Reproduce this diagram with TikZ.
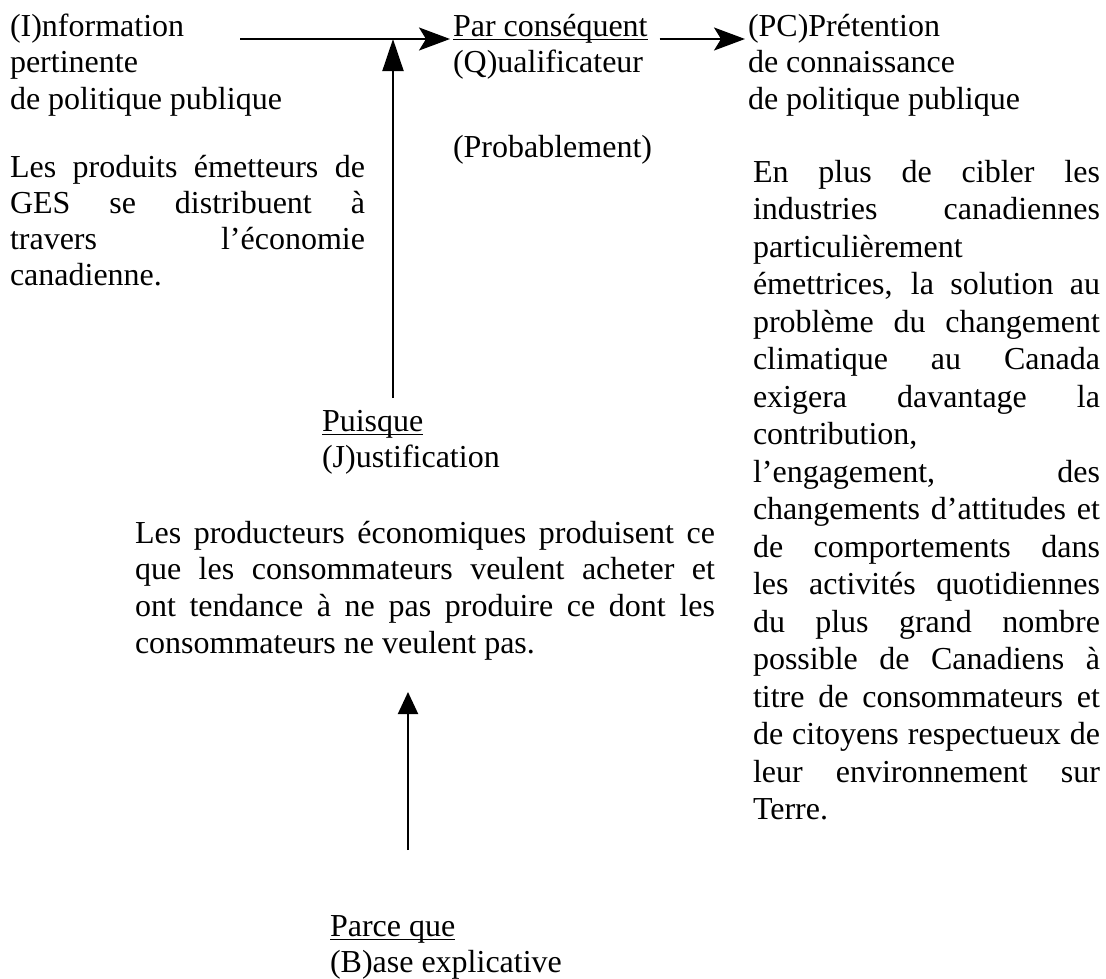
\documentclass[tikz,border=0pt]{standalone}
\usepackage{fontspec}
\setmainfont{Liberation Serif}
\usetikzlibrary{arrows.meta}

% word underlined at a fixed depth, as a word processor does it
\newcommand{\ulword}[1]{\setbox0\hbox{#1}\rlap{\rule[-4pt]{\wd0}{1.4pt}}\box0}
% one justified line of a given width, and one line at its natural width
\newcommand{\jl}[2]{\hbox to #1{#2}}
\newcommand{\nl}[1]{\hbox{#1}}

\begin{document}
\begin{tikzpicture}[x=1pt,y=-1pt,
  font=\fontsize{32}{36.8}\selectfont,
  txt/.style={anchor=base west, inner sep=0pt, outer sep=0pt},
  harrow/.style={line width=2pt, -{Stealth[length=31pt,width=23pt,inset=7pt]}},
  varrow/.style={line width=2pt, -{Triangle[length=32pt,width=21pt]}},
  varrowshort/.style={line width=2pt, -{Triangle[length=22pt,width=20pt]}}]
\useasboundingbox (0,0) rectangle (1106,978);

% (I) information
\node[txt] (info) at (10,36) {\vtop{\nl{(I)nformation}\nl{pertinente}\nl{de politique publique}}};
\node[txt] (infotext) at (10,177) {\vtop{\baselineskip=36pt
  \jl{355pt}{Les produits émetteurs de}%
  \jl{355pt}{GES se distribuent à}%
  \jl{355pt}{travers l’économie}%
  \nl{canadienne.}}};

% (Q) qualifier
\node[txt] (qual) at (453,36) {\vtop{\nl{\ulword{Par conséquent}}\nl{(Q)ualificateur}}};
\node[txt] (prob) at (453,157) {(Probablement)};

% (PC) claim
\node[txt] (claim) at (748,36) {\vtop{\nl{(PC)Prétention}\nl{de connaissance}\nl{de politique publique}}};
\node[txt] (claimtext) at (753,182) {\vtop{\baselineskip=37.5pt
  \jl{347pt}{En plus de cibler les}%
  \jl{347pt}{industries canadiennes}%
  \nl{particulièrement}%
  \jl{347pt}{émettrices, la solution au}%
  \jl{347pt}{problème du changement}%
  \jl{347pt}{climatique au Canada}%
  \jl{347pt}{exigera davantage la}%
  \nl{contribution,}%
  \jl{347pt}{l’engagement, des}%
  \jl{347pt}{changements d’attitudes et}%
  \jl{347pt}{de comportements dans}%
  \jl{347pt}{les activités quotidiennes}%
  \jl{347pt}{du plus grand nombre}%
  \jl{347pt}{possible de Canadiens à}%
  \jl{347pt}{titre de consommateurs et}%
  \jl{347pt}{de citoyens respectueux de}%
  \jl{347pt}{leur environnement sur}%
  \nl{Terre.}}};

% (J) warrant
\node[txt] (warrant) at (322,431) {\vtop{\nl{\ulword{Puisque}}\nl{(J)ustification}}};
\node[txt] (warranttext) at (135,543) {\vtop{%
  \jl{580pt}{Les producteurs économiques produisent ce}%
  \jl{580pt}{que les consommateurs veulent acheter et}%
  \jl{580pt}{ont tendance à ne pas produire ce dont les}%
  \nl{consommateurs ne veulent pas.}}};

% (B) backing
\node[txt] (backing) at (330,936) {\vtop{\nl{\ulword{Parce que}}\nl{(B)ase explicative}}};

% connector ends
\coordinate (infoend) at (240,39);
\coordinate (jtop) at (393,398);
\coordinate (bbottom) at (408,850);
\coordinate (btip) at (408,692);

% arrows
\draw[harrow] (infoend) -- ([xshift=-3pt]qual.west |- infoend);
\draw[varrow] (jtop) -- (jtop |- infoend);
\draw[harrow] ([xshift=12pt]qual.east |- infoend) -- ([xshift=-3pt]claim.west |- infoend);
\draw[varrowshort] (bbottom) -- (btip);
\end{tikzpicture}
\end{document}
